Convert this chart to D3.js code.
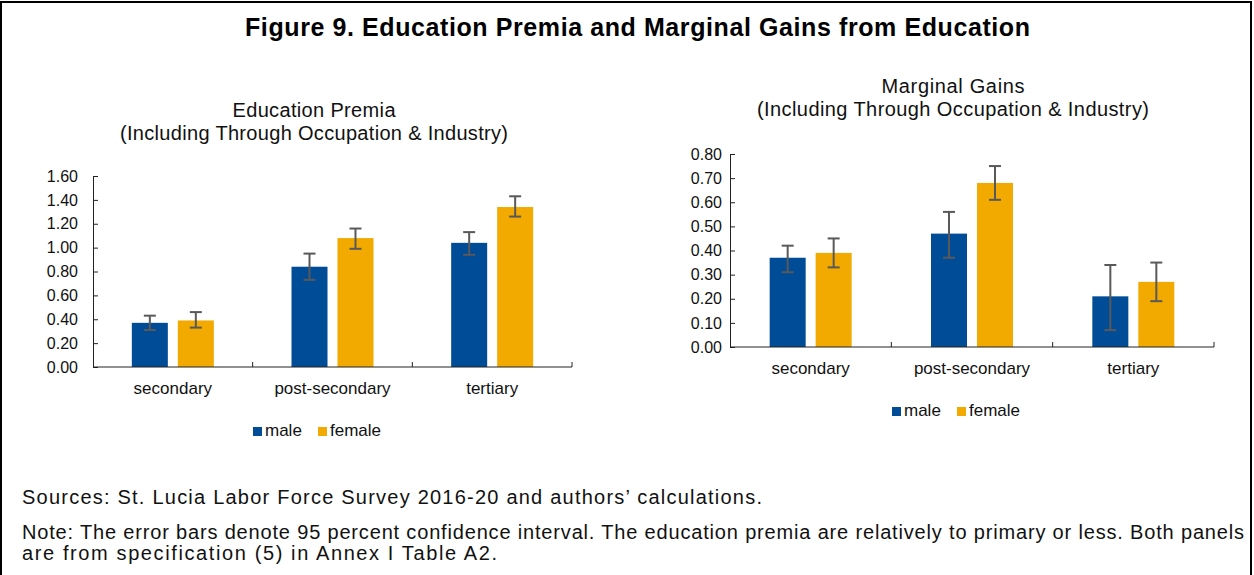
<html>
<head>
  <title>Figure 9</title>
  <script src="https://d3js.org/d3.v7.min.js"></script>
</head>
<body style="margin:0; background:#fff;">
<div id="fig"></div>
<script>
// data
var levels = ['secondary', 'post-secondary', 'tertiary'];
var sexes = ['male', 'female'];
var colors = ['#004c97', '#f2a900'];

var premiaMale = [0.37, 0.84, 1.04];
var premiaMaleLo = [0.31, 0.73, 0.94];
var premiaMaleHi = [0.43, 0.95, 1.13];
var premiaFemale = [0.39, 1.08, 1.34];
var premiaFemaleLo = [0.33, 0.99, 1.26];
var premiaFemaleHi = [0.46, 1.16, 1.43];
var premiaTicks = [0, 0.2, 0.4, 0.6, 0.8, 1.0, 1.2, 1.4, 1.6];

var gainsMale = [0.37, 0.47, 0.21];
var gainsMaleLo = [0.31, 0.37, 0.07];
var gainsMaleHi = [0.42, 0.56, 0.34];
var gainsFemale = [0.39, 0.68, 0.27];
var gainsFemaleLo = [0.33, 0.61, 0.19];
var gainsFemaleHi = [0.45, 0.75, 0.35];
var gainsTicks = [0, 0.1, 0.2, 0.3, 0.4, 0.5, 0.6, 0.7, 0.8];

var W = 1254, H = 575;
var font = "Arial, 'Liberation Sans', sans-serif";

var svg = d3.select('#fig').append('svg')
  .attr('width', W).attr('height', H)
  .style('font-family', font);

// frame
svg.append('path')
  .attr('d', 'M1,' + H + ' V2 H1251 V' + H)
  .attr('fill', 'none').attr('stroke', '#000').attr('stroke-width', 2);

svg.append('text')
  .attr('x', 245).attr('y', 36)
  .attr('textLength', 785).attr('lengthAdjust', 'spacing')
  .style('font-size', '25px').style('font-weight', 'bold')
  .text('Figure 9. Education Premia and Marginal Gains from Education');

function panel(opt) {
  var g = svg.append('g');
  var x0 = d3.scaleBand().domain(levels).range([opt.left, opt.right]);
  var y = d3.scaleLinear().domain([0, opt.max]).range([opt.bottom, opt.top]);

  // titles
  opt.title.forEach(function(t, i) {
    g.append('text')
      .attr('x', opt.titleX).attr('y', opt.titleY + i * 23)
      .attr('text-anchor', 'middle')
      .attr('textLength', opt.titleLen[i]).attr('lengthAdjust', 'spacing')
      .style('font-size', '20px').attr('fill', '#111')
      .text(t);
  });

  var rows = levels.map(function(l, i) {
    return [
      {lev: l, sex: 'male', v: opt.male[i], lo: opt.maleLo[i], hi: opt.maleHi[i]},
      {lev: l, sex: 'female', v: opt.female[i], lo: opt.femaleLo[i], hi: opt.femaleHi[i]}
    ];
  });
  var flat = [].concat.apply([], rows);

  var x1 = d3.scaleBand().domain(sexes).paddingInner(0.217);
  function bx(d) {
    var c = x0(d.lev) + x0.bandwidth() / 2;
    x1.range([c - 41, c + 41]);
    return x1(d.sex);
  }

  g.selectAll('rect.bar').data(flat).enter().append('rect')
    .attr('class', 'bar')
    .attr('x', bx)
    .attr('width', 36)
    .attr('y', function(d) { return y(d.v); })
    .attr('height', function(d) { return y(0) - y(d.v); })
    .attr('fill', function(d) { return colors[sexes.indexOf(d.sex)]; });

  // error bars
  var eb = g.selectAll('g.err').data(flat).enter().append('g')
    .attr('class', 'err')
    .attr('stroke', '#595959').attr('stroke-width', 2);
  eb.append('line')
    .attr('x1', function(d) { return bx(d) + 18; })
    .attr('x2', function(d) { return bx(d) + 18; })
    .attr('y1', function(d) { return y(d.lo); })
    .attr('y2', function(d) { return y(d.hi); });
  ['lo', 'hi'].forEach(function(k) {
    eb.append('line')
      .attr('x1', function(d) { return bx(d) + 12; })
      .attr('x2', function(d) { return bx(d) + 24; })
      .attr('y1', function(d) { return y(d[k]); })
      .attr('y2', function(d) { return y(d[k]); });
  });

  // y axis, ticks point inward
  var ya = g.append('g')
    .attr('transform', 'translate(' + opt.left + ',0)')
    .call(d3.axisLeft(y).tickValues(opt.ticks).tickFormat(d3.format('.2f'))
      .tickSizeOuter(0).tickSizeInner(-5).tickPadding(opt.pad));
  ya.selectAll('text').style('font-size', '16px').style('font-family', font).attr('fill', '#111');
  ya.selectAll('line, path').attr('stroke', '#222');

  // x axis
  var xa = g.append('g')
    .attr('transform', 'translate(0,' + opt.bottom + ')');
  xa.append('line')
    .attr('x1', opt.left).attr('x2', opt.right)
    .attr('stroke', '#222');
  xa.selectAll('line.tk').data(levels).enter().append('line')
    .attr('class', 'tk')
    .attr('x1', function(d) { return x0(d) + x0.bandwidth(); })
    .attr('x2', function(d) { return x0(d) + x0.bandwidth(); })
    .attr('y1', 0).attr('y2', -5)
    .attr('stroke', '#222');
  xa.selectAll('text').data(levels).enter().append('text')
    .attr('x', function(d) { return x0(d) + x0.bandwidth() / 2; })
    .attr('y', 27)
    .attr('text-anchor', 'middle')
    .style('font-size', '17px').attr('fill', '#111')
    .text(function(d) { return d; });

  // legend
  var lg = g.append('g').attr('transform', 'translate(' + opt.legX + ',' + opt.legY + ')');
  var offs = [0, 65];
  sexes.forEach(function(s, i) {
    lg.append('rect').attr('x', offs[i]).attr('y', -9).attr('width', 9).attr('height', 9)
      .attr('fill', colors[i]);
    lg.append('text').attr('x', offs[i] + 12).attr('y', 0)
      .style('font-size', '17px').attr('fill', '#111').text(s);
  });
}

panel({
  left: 93, right: 572, top: 176, bottom: 367, max: 1.6, ticks: premiaTicks, pad: 15,
  male: premiaMale, maleLo: premiaMaleLo, maleHi: premiaMaleHi,
  female: premiaFemale, femaleLo: premiaFemaleLo, femaleHi: premiaFemaleHi,
  title: ['Education Premia', '(Including Through Occupation & Industry)'],
  titleLen: [163, 388],
  titleX: 314, titleY: 117, legX: 253, legY: 436
});

panel({
  left: 730, right: 1214, top: 154, bottom: 347, max: 0.8, ticks: gainsTicks, pad: 8,
  male: gainsMale, maleLo: gainsMaleLo, maleHi: gainsMaleHi,
  female: gainsFemale, femaleLo: gainsFemaleLo, femaleHi: gainsFemaleHi,
  title: ['Marginal Gains', '(Including Through Occupation & Industry)'],
  titleLen: [143, 392],
  titleX: 953, titleY: 93, legX: 892, legY: 416
});

// notes
var notes = [
  'Sources: St. Lucia Labor Force Survey 2016-20 and authors\u2019 calculations.',
  'Note: The error bars denote 95 percent confidence interval. The education premia are relatively to primary or less.  Both panels',
  'are from specification (5) in Annex I Table A2.'
];
var noteLen = [740, 1222, 475];
var noteY = [504, 539, 560];
svg.selectAll('text.note').data(notes).enter().append('text')
  .attr('class', 'note')
  .attr('x', 22).attr('y', function(d, i) { return noteY[i]; })
  .attr('textLength', function(d, i) { return noteLen[i]; })
  .attr('lengthAdjust', 'spacing')
  .style('font-size', '20px').attr('fill', '#111')
  .text(function(d) { return d; });
</script>
</body>
</html>
